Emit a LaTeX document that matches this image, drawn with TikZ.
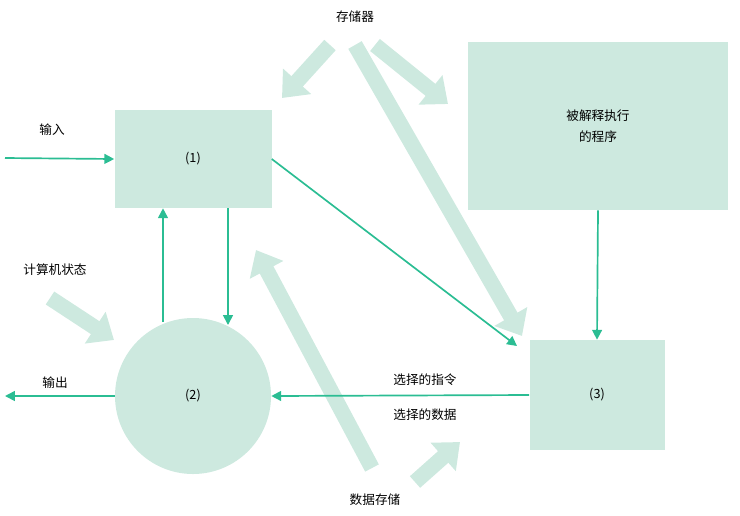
\documentclass[tikz,border=0pt]{standalone}
\usepackage{fontspec}
\setmainfont{Noto Sans CJK SC}
\usetikzlibrary{arrows.meta}
\definecolor{boxgreen}{HTML}{CDE9DF}
\definecolor{linegreen}{HTML}{2BBD93}
\tikzset{
  unit/.style={fill=boxgreen, draw=none, font=\small},
  flow/.style={linegreen, line width=1.2pt, -{Triangle[length=7pt,width=7pt]}},
  memflow/.style={boxgreen, line width=11pt, -{Triangle[length=16pt,width=26pt]}},
  note/.style={font=\small}
}
\begin{document}
\begin{tikzpicture}[x=0.025cm, y=-0.025cm]
  \useasboundingbox (0,0) rectangle (740,515);
  % units
  \node[unit, minimum width=157*0.025cm, minimum height=98*0.025cm] (u1) at (193,159) {(1)};
  \node[unit, minimum width=260*0.025cm, minimum height=168*0.025cm, align=center] (prog) at (598,126) {被解释执行\\[4pt]的程序};
  \node[unit, minimum width=135*0.025cm, minimum height=110*0.025cm] (u3) at (597,395) {(3)};
  \node[unit, circle, minimum size=156*0.025cm] (u2) at (193,396) {(2)};
  % texts
  \node[note] (mem) at (355,17) {存储器};
  \node[note] (inp) at (52,130) {输入};
  \node[note] (state) at (55,270) {计算机状态};
  \node[note] (outp) at (55,383) {输出};
  \node[note] (ins) at (425,380) {选择的指令};
  \node[note] (dat) at (425,415) {选择的数据};
  \node[note] (dstore) at (375,500) {数据存储};
  % free ends
  \coordinate (inA) at (5,158);
  \coordinate (outB) at (5,396);
  % memory arrows
  \draw[memflow] (330,45) -- (282,98);
  \draw[memflow] (355,45) -- (522,336);
  \draw[memflow] (375,45) -- (448,104);
  \draw[memflow] (50,298) -- (114,340);
  \draw[memflow] (372,468) -- (256,250);
  \draw[memflow] (415,482) -- (460,442);
  % data flow
  \draw[flow] (inA) -- (u1.west);
  \draw[flow] (u1.south -| 228,0) -- (228,325);
  \draw[flow] (163,322) -- (u1.south -| 163,0);
  \draw[flow] (u1.east) -- (517,346);
  \draw[flow] (prog.south) -- (u3.north);
  \draw[flow] (u3.west) -- (u2.east);
  \draw[flow] (u2.west) -- (outB);
\end{tikzpicture}
\end{document}
